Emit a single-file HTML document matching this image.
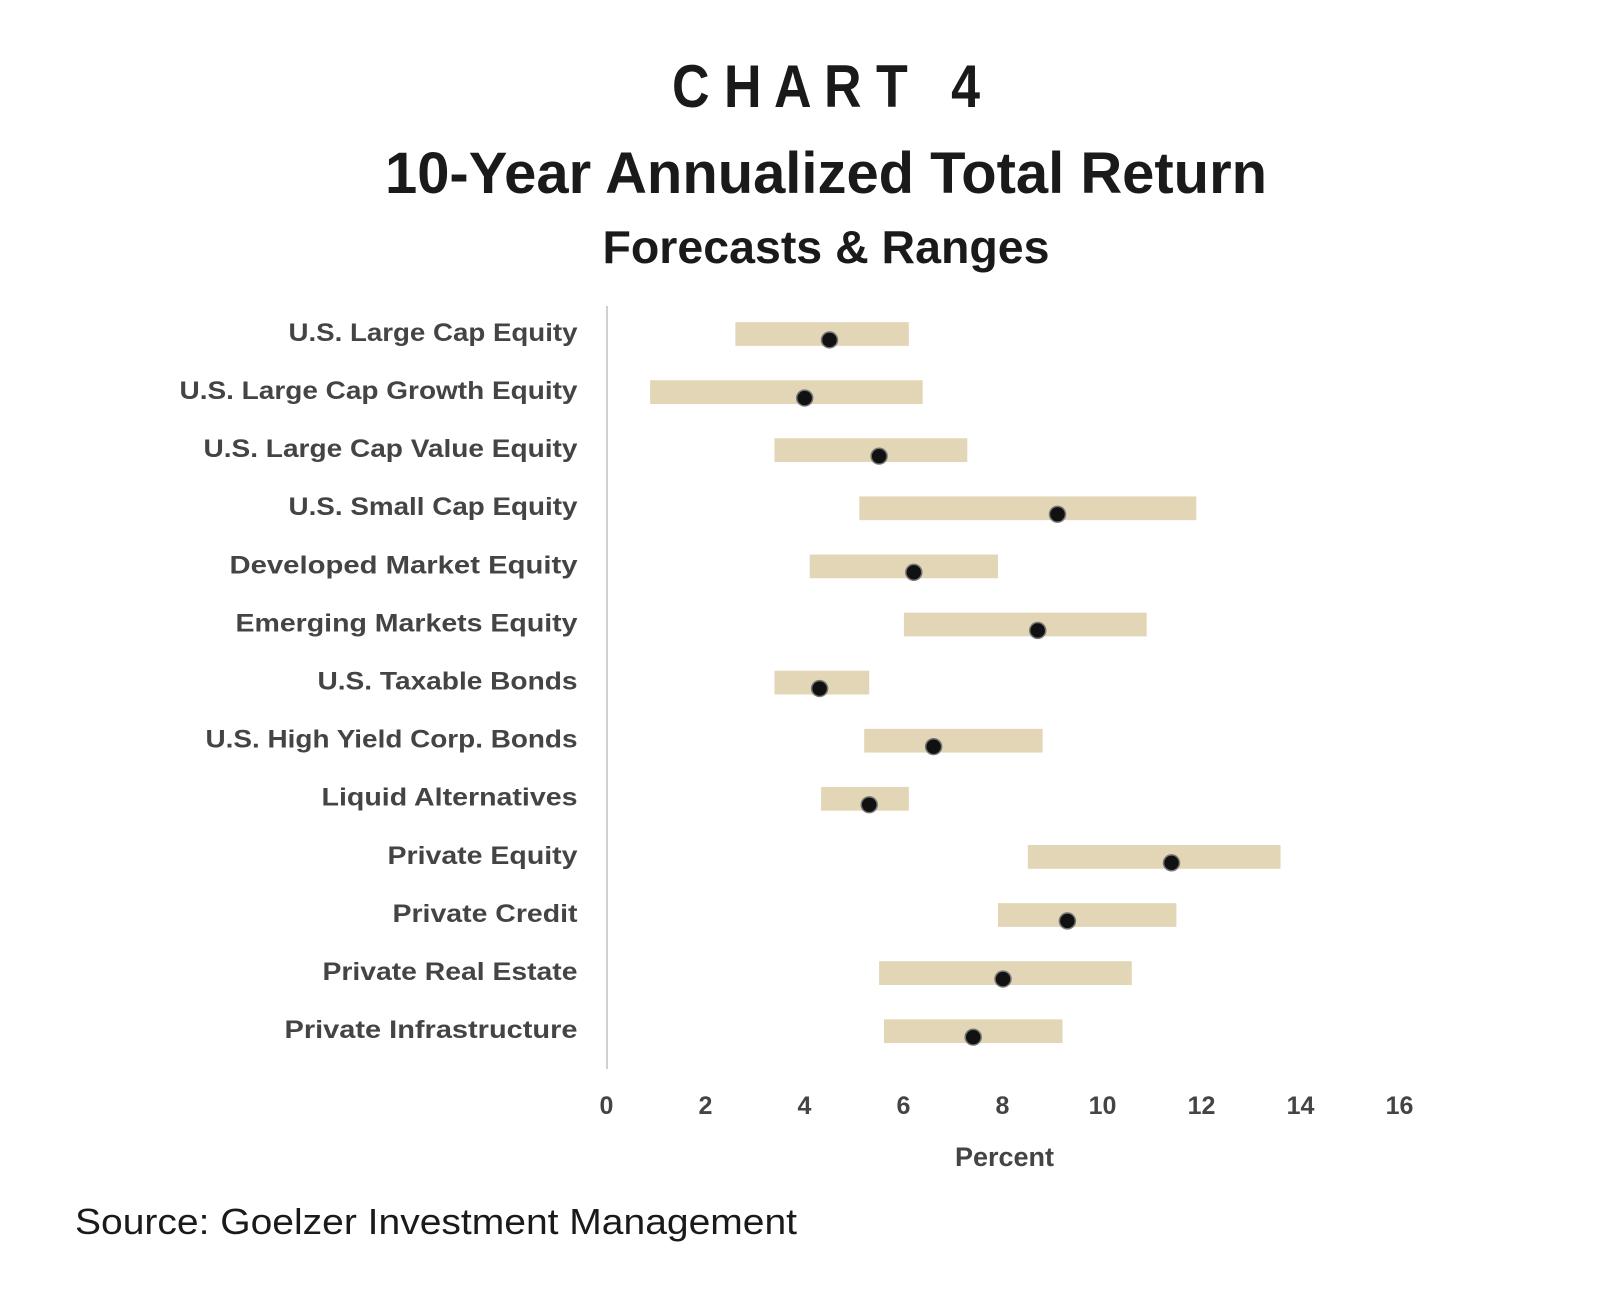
<!DOCTYPE html>
<html><head><meta charset="utf-8"><style>
html,body{margin:0;padding:0;background:#fff;}
svg{display:block;}
text{font-family:"Liberation Sans",sans-serif;}
</style></head><body>
<svg width="1619" height="1313" viewBox="0 0 1619 1313" xmlns="http://www.w3.org/2000/svg">
<rect width="1619" height="1313" fill="#fff"/>
<text x="826" y="107" font-size="60" font-weight="bold" fill="#1a1a1a" text-anchor="middle" textLength="308" lengthAdjust="spacingAndGlyphs" xml:space="preserve">C H A R T   4</text>
<text x="826" y="193" font-size="58" font-weight="bold" fill="#1a1a1a" text-anchor="middle" textLength="882" lengthAdjust="spacingAndGlyphs">10-Year Annualized Total Return</text>
<text x="826" y="263" font-size="46" font-weight="bold" fill="#1a1a1a" text-anchor="middle" textLength="447" lengthAdjust="spacingAndGlyphs">Forecasts &amp; Ranges</text>
<line x1="607" y1="306" x2="607" y2="1069" stroke="#d0d0d0" stroke-width="2"/>
<g transform="translate(-2.5,3.413) scale(1,0.98978)">
<g fill="#e2d6b7">
<rect x="737.9" y="322" width="173.4" height="24"/>
<rect x="652.6" y="380.7" width="272.6" height="24"/>
<rect x="777.0" y="439.4" width="192.8" height="24"/>
<rect x="861.8" y="498.1" width="337.0" height="24"/>
<rect x="812.2" y="556.8" width="188.3" height="24"/>
<rect x="906.4" y="615.5" width="242.8" height="24"/>
<rect x="777.0" y="674.2" width="94.7" height="24"/>
<rect x="866.7" y="732.9" width="178.4" height="24"/>
<rect x="823.6" y="791.6" width="87.7" height="24"/>
<rect x="1030.3" y="850.3" width="252.7" height="24"/>
<rect x="1000.5" y="909" width="178.4" height="24"/>
<rect x="881.6" y="967.7" width="252.7" height="24"/>
<rect x="886.5" y="1026.4" width="178.5" height="24"/>
</g>
<g fill="#111" stroke="#777" stroke-width="1.5">
<circle cx="832.0" cy="340" r="8"/>
<circle cx="807.2" cy="398.7" r="8"/>
<circle cx="881.6" cy="457.4" r="8"/>
<circle cx="1060.0" cy="516.1" r="8"/>
<circle cx="916.3" cy="574.8" r="8"/>
<circle cx="1040.2" cy="633.5" r="8"/>
<circle cx="822.1" cy="692.2" r="8"/>
<circle cx="936.1" cy="750.9" r="8"/>
<circle cx="871.7" cy="809.6" r="8"/>
<circle cx="1174.0" cy="868.3" r="8"/>
<circle cx="1069.9" cy="927" r="8"/>
<circle cx="1005.5" cy="985.7" r="8"/>
<circle cx="975.7" cy="1044.4" r="8"/>
</g>
<g font-size="25" font-weight="bold" fill="#444" text-anchor="end">
<text x="580" y="341" textLength="289" lengthAdjust="spacingAndGlyphs">U.S. Large Cap Equity</text>
<text x="580" y="399.7" textLength="398" lengthAdjust="spacingAndGlyphs">U.S. Large Cap Growth Equity</text>
<text x="580" y="458.4" textLength="374" lengthAdjust="spacingAndGlyphs">U.S. Large Cap Value Equity</text>
<text x="580" y="517.1" textLength="289" lengthAdjust="spacingAndGlyphs">U.S. Small Cap Equity</text>
<text x="580" y="575.8" textLength="348" lengthAdjust="spacingAndGlyphs">Developed Market Equity</text>
<text x="580" y="634.5" textLength="342" lengthAdjust="spacingAndGlyphs">Emerging Markets Equity</text>
<text x="580" y="693.2" textLength="260" lengthAdjust="spacingAndGlyphs">U.S. Taxable Bonds</text>
<text x="580" y="751.9" textLength="372" lengthAdjust="spacingAndGlyphs">U.S. High Yield Corp. Bonds</text>
<text x="580" y="810.6" textLength="256" lengthAdjust="spacingAndGlyphs">Liquid Alternatives</text>
<text x="580" y="869.3" textLength="190" lengthAdjust="spacingAndGlyphs">Private Equity</text>
<text x="580" y="928" textLength="185" lengthAdjust="spacingAndGlyphs">Private Credit</text>
<text x="580" y="986.7" textLength="255" lengthAdjust="spacingAndGlyphs">Private Real Estate</text>
<text x="580" y="1045.4" textLength="293" lengthAdjust="spacingAndGlyphs">Private Infrastructure</text>
</g>
</g>
<g font-size="25" font-weight="bold" fill="#444" text-anchor="middle" transform="translate(-2.5,0)">
<text x="609" y="1114">0</text><text x="708" y="1114">2</text><text x="807" y="1114">4</text><text x="906" y="1114">6</text><text x="1005" y="1114">8</text><text x="1105" y="1114">10</text><text x="1204" y="1114">12</text><text x="1303" y="1114">14</text><text x="1402" y="1114">16</text>
<text x="1007" y="1166" font-size="27">Percent</text>
</g>
<text x="75" y="1234" font-size="36" fill="#1a1a1a" textLength="722" lengthAdjust="spacingAndGlyphs">Source: Goelzer Investment Management</text>
</svg>
</body></html>
